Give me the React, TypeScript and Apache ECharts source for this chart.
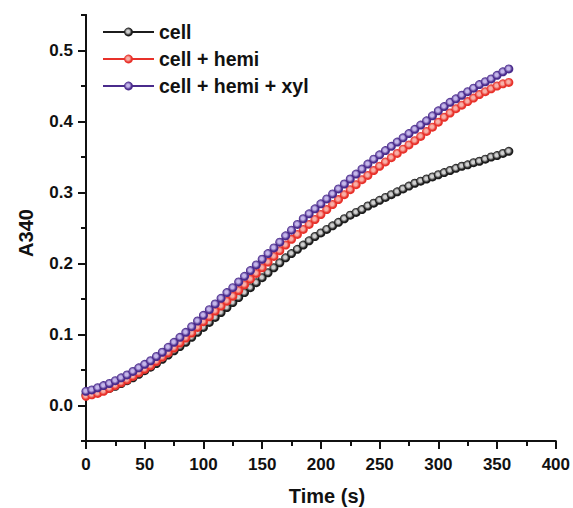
import React, { useEffect, useRef } from "react";
import * as echarts from "echarts";

const times = [
  0, 5, 10, 15, 20, 25, 30, 35, 40, 45,
  50, 55, 60, 65, 70, 75, 80, 85, 90, 95,
  100, 105, 110, 115, 120, 125, 130, 135, 140, 145,
  150, 155, 160, 165, 170, 175, 180, 185, 190, 195,
  200, 205, 210, 215, 220, 225, 230, 235, 240, 245,
  250, 255, 260, 265, 270, 275, 280, 285, 290, 295,
  300, 305, 310, 315, 320, 325, 330, 335, 340, 345,
  350, 355, 360,
];

const cell = [
  0.015, 0.016, 0.018, 0.021, 0.024, 0.027, 0.031, 0.035, 0.039, 0.044,
  0.049, 0.054, 0.059, 0.065, 0.071, 0.077, 0.083, 0.089, 0.096, 0.103,
  0.110, 0.117, 0.124, 0.131, 0.138, 0.145, 0.152, 0.159, 0.166, 0.173,
  0.180, 0.187, 0.194, 0.201, 0.208, 0.214, 0.220, 0.226, 0.232, 0.238,
  0.243, 0.248, 0.253, 0.258, 0.263, 0.268, 0.272, 0.276, 0.281, 0.285,
  0.289, 0.293, 0.297, 0.301, 0.305, 0.309, 0.313, 0.316, 0.319, 0.322,
  0.325, 0.328, 0.331, 0.334, 0.337, 0.339, 0.342, 0.344, 0.347, 0.350,
  0.352, 0.355, 0.358,
];

const cellHemi = [
  0.013, 0.015, 0.017, 0.020, 0.024, 0.028, 0.032, 0.036, 0.041, 0.046,
  0.051, 0.056, 0.062, 0.068, 0.074, 0.081, 0.088, 0.095, 0.102, 0.110,
  0.118, 0.125, 0.133, 0.140, 0.147, 0.154, 0.162, 0.170, 0.178, 0.186,
  0.194, 0.202, 0.210, 0.218, 0.226, 0.234, 0.241, 0.248, 0.255, 0.262,
  0.269, 0.276, 0.283, 0.290, 0.297, 0.304, 0.311, 0.318, 0.324, 0.331,
  0.337, 0.343, 0.349, 0.355, 0.361, 0.367, 0.373, 0.379, 0.386, 0.392,
  0.399, 0.406, 0.412, 0.418, 0.423, 0.428, 0.433, 0.438, 0.442, 0.446,
  0.450, 0.453, 0.455,
];

const cellHemiXyl = [
  0.020, 0.022, 0.025, 0.028, 0.031, 0.035, 0.039, 0.043, 0.048, 0.053,
  0.058, 0.063, 0.069, 0.075, 0.082, 0.089, 0.096, 0.103, 0.111, 0.119,
  0.127, 0.135, 0.143, 0.151, 0.159, 0.166, 0.174, 0.182, 0.190, 0.198,
  0.206, 0.214, 0.222, 0.230, 0.239, 0.247, 0.255, 0.263, 0.270, 0.277,
  0.284, 0.291, 0.298, 0.305, 0.312, 0.319, 0.326, 0.333, 0.340, 0.347,
  0.353, 0.359, 0.365, 0.371, 0.377, 0.383, 0.389, 0.395, 0.401, 0.408,
  0.415, 0.421, 0.427, 0.432, 0.437, 0.442, 0.447, 0.452, 0.456, 0.460,
  0.465, 0.470, 0.474,
];

const seriesNames = ["cell", "cell + hemi", "cell + hemi + xyl"];
const seriesColors = ["#1c1c1c", "#e8312a", "#4a2b8c"];
const seriesHighlights = ["#d0d0d0", "#f7b0a8", "#c4b6ea"];
const xTicks = [0, 50, 100, 150, 200, 250, 300, 350, 400];
const yMajor = [0, 0.1, 0.2, 0.3, 0.4, 0.5];

const FONT = "'Liberation Sans', Arial, Helvetica, sans-serif";
const TXT = "#111";

export default function App() {
  const ref = useRef<HTMLDivElement>(null);
  useEffect(() => {
    if (!ref.current) return;
    const chart = echarts.init(ref.current, null, { renderer: "svg" });
    const values = [cell, cellHemi, cellHemiXyl];
    const series = values.map((vals, i) => ({
      name: seriesNames[i],
      type: "line",
      xAxisIndex: 0,
      yAxisIndex: 0,
      data: times.map((t, k) => [t, vals[k]]),
      symbol: "circle",
      symbolSize: 9,
      showSymbol: true,
      lineStyle: { color: seriesColors[i], width: 2 },
      itemStyle: {
        color: {
          type: "radial",
          x: 0.45,
          y: 0.45,
          r: 0.55,
          colorStops: [
            { offset: 0, color: seriesHighlights[i] },
            { offset: 0.3, color: seriesHighlights[i] },
            { offset: 0.75, color: seriesColors[i] },
            { offset: 1, color: seriesColors[i] },
          ],
        },
        borderWidth: 0,
      },
      z: 2 + i,
    }));
    const option: any = {
      animation: false,
      backgroundColor: "#ffffff",
      textStyle: { fontFamily: FONT },
      grid: { left: 86, right: 16, top: 15, bottom: 67, containLabel: false },
      legend: {
        orient: "vertical",
        left: 97,
        top: 16,
        itemWidth: 51,
        itemHeight: 11,
        itemGap: 5,
        data: seriesNames,
        textStyle: {
          fontFamily: FONT,
          fontSize: 19.5,
          fontWeight: "bold",
          color: TXT,
          lineHeight: 22,
        },
      },
      xAxis: {
        type: "value",
        min: 0,
        max: 400,
        interval: 50,
        axisLine: { show: true, onZero: false, lineStyle: { color: TXT, width: 2 } },
        axisTick: { show: true, length: 8, lineStyle: { color: TXT, width: 2 } },
        minorTick: { show: true, splitNumber: 2, length: 5, lineStyle: { color: TXT, width: 2 } },
        splitLine: { show: false },
        minorSplitLine: { show: false },
        axisLabel: {
          customValues: xTicks,
          margin: 15,
          fontFamily: FONT,
          fontSize: 17,
          fontWeight: "bold",
          color: TXT,
        },
      },
      yAxis: [
        {
          type: "value",
          min: -0.05,
          max: 0.55,
          interval: 0.05,
          position: "left",
          axisLine: { show: true, onZero: false, lineStyle: { color: TXT, width: 2 } },
          axisTick: { show: true, length: 5, lineStyle: { color: TXT, width: 2 } },
          splitLine: { show: false },
          axisLabel: {
            customValues: yMajor,
            formatter: (v: number) => v.toFixed(1),
            margin: 13,
            fontFamily: FONT,
            fontSize: 17,
            fontWeight: "bold",
            color: TXT,
          },
        },
        {
          type: "value",
          min: -0.05,
          max: 0.55,
          position: "left",
          offset: 0,
          axisLine: { show: true, onZero: false, lineStyle: { color: TXT, width: 2 } },
          axisTick: { show: true, customValues: yMajor, length: 8, lineStyle: { color: TXT, width: 2 } },
          splitLine: { show: false },
          axisLabel: { show: false },
        },
      ],
      graphic: [
        {
          type: "text",
          x: 26,
          y: 233,
          rotation: Math.PI / 2,
          style: {
            text: "A340",
            fontFamily: FONT,
            fontSize: 20,
            fontWeight: "bold",
            fill: TXT,
            textAlign: "center",
            textVerticalAlign: "middle",
          },
        },
        {
          type: "text",
          x: 327,
          y: 496,
          style: {
            text: "Time (s)",
            fontFamily: FONT,
            fontSize: 20,
            fontWeight: "bold",
            fill: TXT,
            textAlign: "center",
            textVerticalAlign: "middle",
          },
        },
      ],
      series,
    };
    chart.setOption(option);
    return () => chart.dispose();
  }, []);
  return (
    <div
      ref={ref}
      style={{ position: "fixed", left: 0, top: 0, width: 573, height: 508, background: "#fff" }}
    />
  );
}
